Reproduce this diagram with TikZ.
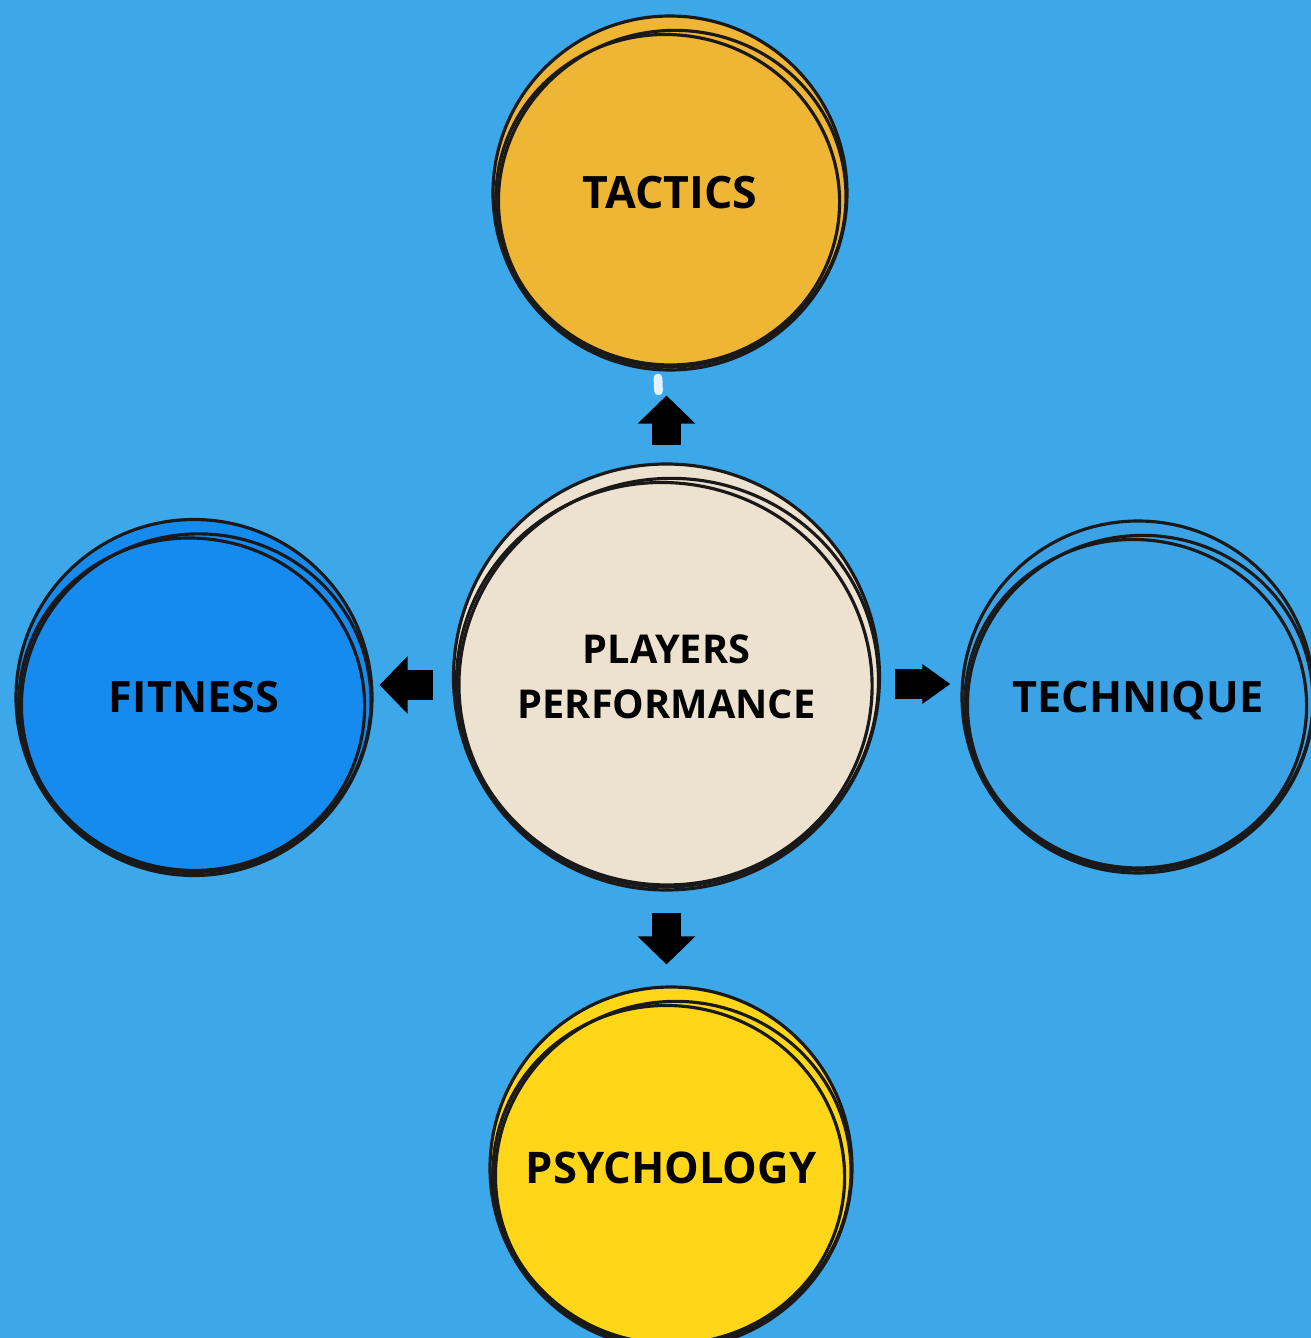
\documentclass[tikz,border=0pt]{standalone}
\usepackage{fontspec}
\setmainfont{Open Sans}
\usetikzlibrary{arrows.meta}

\definecolor{skyblue}{HTML}{3DA8E9}
\definecolor{tactorange}{HTML}{EFB534}
\definecolor{perfcream}{HTML}{EDE2D0}
\definecolor{fitblue}{HTML}{168BEF}
\definecolor{techblue}{HTML}{3BA3E5}
\definecolor{psyyellow}{HTML}{FFD718}

\tikzset{
  topic/.style={circle, draw=black!90, line width=0.9pt, inner sep=0pt,
    font=\bfseries\fontsize{12.3}{14}\selectfont},
  ring/.style={draw=black!90, line width=0.9pt},
  bigarrow/.style={line width=8.3pt, -{Triangle[length=8pt, width=16pt]}},
}

% two loose pencil rings inside a topic circle
\newcommand\sketchrings[2]{%
  \begin{scope}[shift={(#1.center)}]
    \draw[ring, rotate=12] (0.01,-0.06) ellipse ({#2-0.03} and {#2-0.09});
    \draw[ring, rotate=-10] (-0.01,-0.07) ellipse ({#2-0.05} and {#2-0.12});
  \end{scope}}

\begin{document}
\begin{tikzpicture}
    % Background
    \fill[skyblue] (0,0) rectangle (13.11,13.38);
    \useasboundingbox (0,0) rectangle (13.11,13.38);

    % Circles
    \node[topic, fill=perfcream, minimum size=4.26cm, align=center,
          font=\bfseries\fontsize{11.3}{15.5}\selectfont]
          (perf) at (6.665,6.61) {PLAYERS\\PERFORMANCE};
    \node[topic, fill=tactorange, minimum size=3.54cm,
          font=\bfseries\fontsize{12.7}{15}\selectfont] (tact) at (6.70,11.45) {TACTICS};
    \node[topic, fill=fitblue, minimum size=3.56cm] (fit) at (1.94,6.405) {FITNESS};
    \node[topic, fill=techblue, minimum size=3.52cm, text depth=0pt] (tech) at (11.38,6.41) {TECHNIQUE};
    \node[topic, fill=psyyellow, minimum size=3.62cm,
          font=\bfseries\fontsize{12.4}{15}\selectfont] (psych) at (6.71,1.70) {PSYCHOLOGY};

    \sketchrings{perf}{2.13}
    \sketchrings{tact}{1.77}
    \sketchrings{fit}{1.78}
    \sketchrings{tech}{1.76}
    \sketchrings{psych}{1.81}

    % Arrows out of the middle
    \draw[bigarrow, shorten <=0.17cm, shorten >=0.24cm]
        (perf.north) -- (perf.north |- tact.south);
    \draw[bigarrow, shorten <=0.21cm, shorten >=0.21cm]
        (perf.south) -- (perf.south |- psych.north);
    \draw[bigarrow, shorten <=0.19cm, shorten >=0.06cm]
        ([yshift=-0.08cm]perf.west) -- ([yshift=-0.08cm]perf.west -| fit.east);
    \draw[line width=8.5pt, -{Triangle[length=8pt, width=10.8pt]},
          shorten <=0.14cm, shorten >=0.10cm]
        ([yshift=-0.07cm]perf.east) -- ([yshift=-0.07cm]perf.east -| tech.west);

    % white scratch under the top circle
    \draw[white!85!skyblue, line width=2.5pt, line cap=round] (6.58,9.60) -- (6.585,9.47);
\end{tikzpicture}
\end{document}
